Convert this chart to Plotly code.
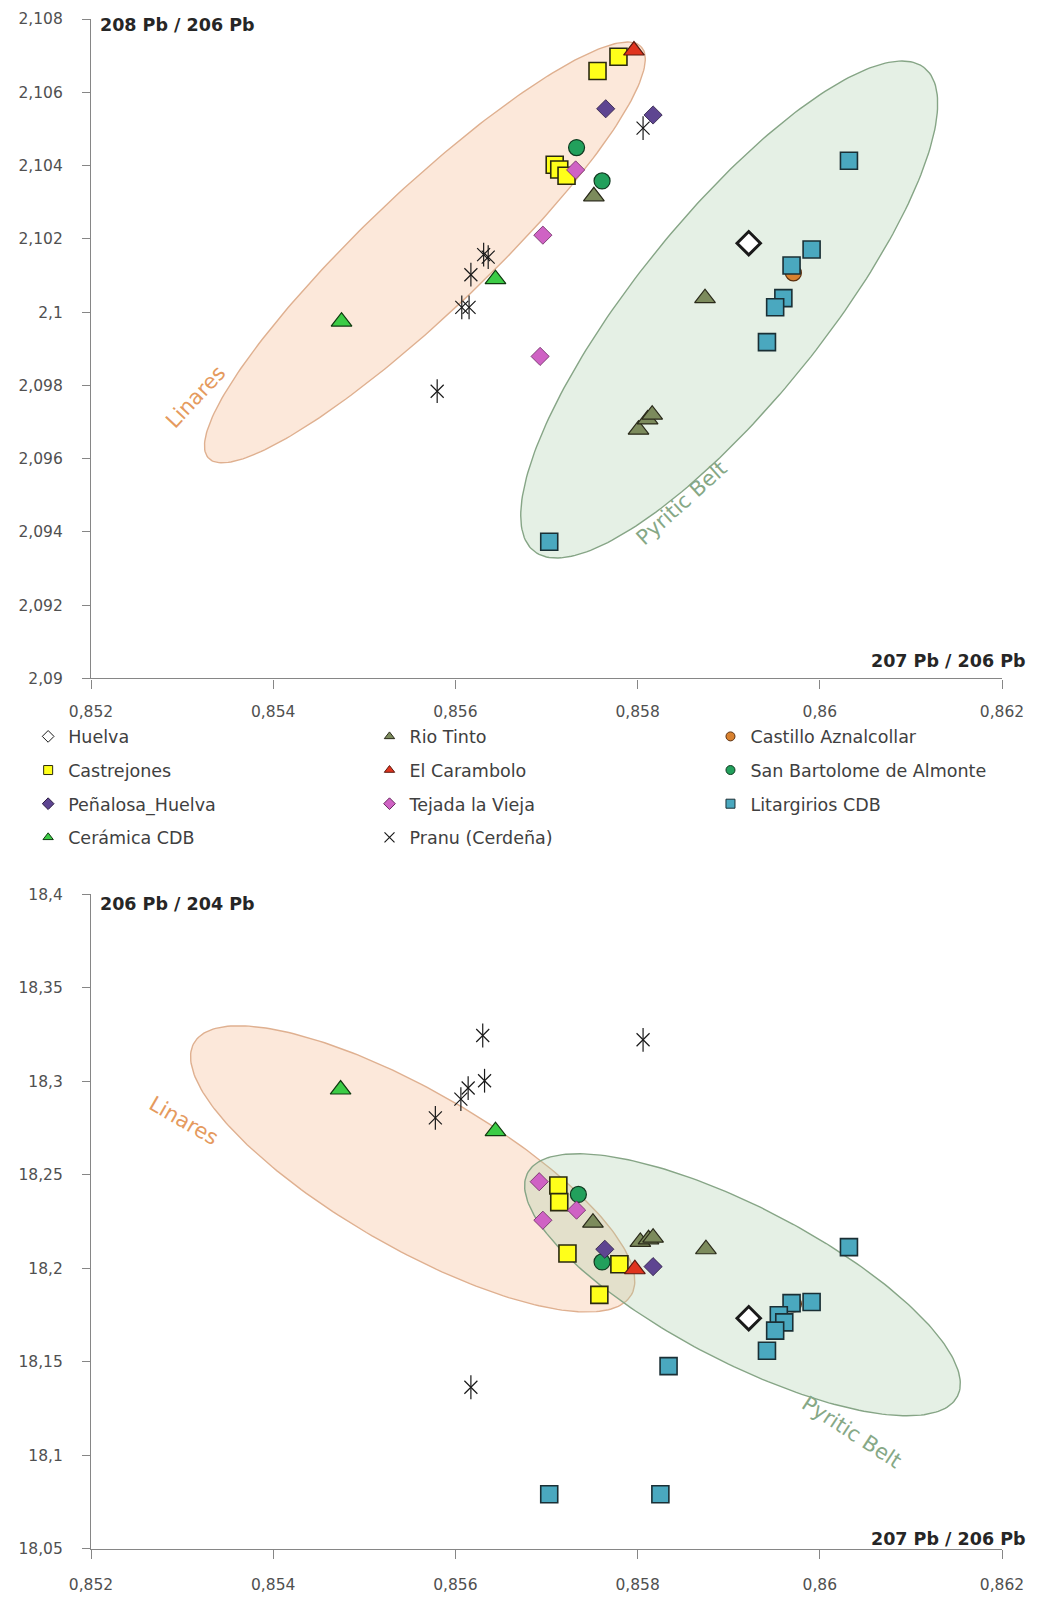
import numpy as np
import plotly.graph_objects as go

FONT = "DejaVu Sans"

# ---------------- data: top chart (208Pb/206Pb vs 207Pb/206Pb) ----------------
HUELVA_X_T = [0.85922]
HUELVA_Y_T = [2.10188]
RIOTINTO_X_T = [0.85752, 0.85874, 0.85801, 0.85811, 0.85816]
RIOTINTO_Y_T = [2.10316, 2.10038, 2.09679, 2.09707, 2.09720]
CASTILLO_X_T = [0.85971]
CASTILLO_Y_T = [2.10107]
CASTREJONES_X_T = [0.85756, 0.85779, 0.85709, 0.85714, 0.85722]
CASTREJONES_Y_T = [2.10658, 2.10697, 2.10402, 2.10389, 2.10372]
CARAMBOLO_X_T = [0.85796]
CARAMBOLO_Y_T = [2.10714]
SANBARTOLOME_X_T = [0.85733, 0.85761]
SANBARTOLOME_Y_T = [2.10449, 2.10358]
PENALOSA_X_T = [0.85765, 0.85817]
PENALOSA_Y_T = [2.10555, 2.10538]
TEJADA_X_T = [0.85732, 0.85696, 0.85693]
TEJADA_Y_T = [2.10388, 2.10210, 2.09879]
LITARGIRIOS_X_T = [0.86032, 0.85991, 0.85969, 0.85960, 0.85951, 0.85942, 0.85703]
LITARGIRIOS_Y_T = [2.10413, 2.10171, 2.10127, 2.10038, 2.10013, 2.09918, 2.09373]
CERAMICA_X_T = [0.85475, 0.85644]
CERAMICA_Y_T = [2.09974, 2.10090]
PRANU_X_T = [0.85631, 0.85636, 0.85617, 0.85607, 0.85615, 0.85580, 0.85806]
PRANU_Y_T = [2.10157, 2.10150, 2.10102, 2.10013, 2.10013, 2.09784, 2.10502]

# ---------------- data: bottom chart (206Pb/204Pb vs 207Pb/206Pb) ----------------
HUELVA_X_B = [0.85922]
HUELVA_Y_B = [18.1734]
RIOTINTO_X_B = [0.85751, 0.85875, 0.85803, 0.85812, 0.85817]
RIOTINTO_Y_B = [18.2245, 18.2103, 18.2142, 18.2156, 18.2165]
CASTILLO_X_B = [0.85971]
CASTILLO_Y_B = [18.1810]
CASTREJONES_X_B = [0.85713, 0.85714, 0.85723, 0.85780, 0.85758]
CASTREJONES_Y_B = [18.2444, 18.2355, 18.2080, 18.2023, 18.1859]
CARAMBOLO_X_B = [0.85797]
CARAMBOLO_Y_B = [18.1996]
SANBARTOLOME_X_B = [0.85735, 0.85761]
SANBARTOLOME_Y_B = [18.2396, 18.2035]
PENALOSA_X_B = [0.85764, 0.85817]
PENALOSA_Y_B = [18.2103, 18.2010]
TEJADA_X_B = [0.85692, 0.85696, 0.85733]
TEJADA_Y_B = [18.2464, 18.2258, 18.2312]
LITARGIRIOS_X_B = [0.86032, 0.85991, 0.85969, 0.85955, 0.85961, 0.85951, 0.85942, 0.85834, 0.85703, 0.85825]
LITARGIRIOS_Y_B = [18.2114, 18.1821, 18.1815, 18.1750, 18.1712, 18.1668, 18.1560, 18.1478, 18.0793, 18.0793]
CERAMICA_X_B = [0.85474, 0.85644]
CERAMICA_Y_B = [18.2957, 18.2734]
PRANU_X_B = [0.85630, 0.85632, 0.85614, 0.85606, 0.85578, 0.85806, 0.85617]
PRANU_Y_B = [18.3246, 18.3004, 18.2965, 18.2906, 18.2805, 18.3223, 18.1365]

# ---------------- ticks ----------------
X_TICKS = [0.852, 0.854, 0.856, 0.858, 0.860, 0.862]
X_TICK_LABELS = ["0,852", "0,854", "0,856", "0,858", "0,86", "0,862"]
Y1_TICKS = [2.090, 2.092, 2.094, 2.096, 2.098, 2.100, 2.102, 2.104, 2.106, 2.108]
Y1_TICK_LABELS = ["2,09", "2,092", "2,094", "2,096", "2,098", "2,1", "2,102", "2,104", "2,106", "2,108"]
Y2_TICKS = [18.05, 18.10, 18.15, 18.20, 18.25, 18.30, 18.35, 18.40]
Y2_TICK_LABELS = ["18,05", "18,1", "18,15", "18,2", "18,25", "18,3", "18,35", "18,4"]

# ---------------- field ellipses (center, semi-axis vectors, in data units) ----------------
ELL_LINARES_T = dict(c=(0.855665, 2.101628), u=(0.0023750, 0.0056140), v=(0.0004614, -0.0012103))
ELL_PYRITIC_T = dict(c=(0.8590055, 2.10007), u=(0.002144, 0.006594), v=(0.000800, -0.001590))
ELL_LINARES_B = dict(c=(0.855531, 18.25326), u=(0.0024, -0.06739), v=(-0.000430, -0.03625))
ELL_PYRITIC_B = dict(c=(0.859151, 18.1913), u=(0.002359, -0.05973), v=(-0.000392, -0.03663))

series = [
    # name, top x, top y, bottom x, bottom y, symbol, fill, line colour, size, line width, legend column
    ("Huelva", HUELVA_X_T, HUELVA_Y_T, HUELVA_X_B, HUELVA_Y_B, "diamond", "white", "#1a1a1a", 18, 3.0, "legend"),
    ("Rio Tinto", RIOTINTO_X_T, RIOTINTO_Y_T, RIOTINTO_X_B, RIOTINTO_Y_B, "triangle-up", "#7c8b5c", "#2a2a1a", 18, 1.2, "legend2"),
    ("Castillo Aznalcollar", CASTILLO_X_T, CASTILLO_Y_T, CASTILLO_X_B, CASTILLO_Y_B, "circle", "#d9812f", "#5a3010", 16, 1.2, "legend3"),
    ("Castrejones", CASTREJONES_X_T, CASTREJONES_Y_T, CASTREJONES_X_B, CASTREJONES_Y_B, "square", "#ffff1a", "#2a2a10", 17, 1.6, "legend"),
    ("El Carambolo", CARAMBOLO_X_T, CARAMBOLO_Y_T, CARAMBOLO_X_B, CARAMBOLO_Y_B, "triangle-up", "#e0341e", "#5a1a10", 18, 1.2, "legend2"),
    ("San Bartolome de Almonte", SANBARTOLOME_X_T, SANBARTOLOME_Y_T, SANBARTOLOME_X_B, SANBARTOLOME_Y_B, "circle", "#22a05c", "#103a20", 16, 1.2, "legend3"),
    ("Peñalosa_Huelva", PENALOSA_X_T, PENALOSA_Y_T, PENALOSA_X_B, PENALOSA_Y_B, "diamond", "#5e4591", "#2a1a40", 14, 0.8, "legend"),
    ("Tejada la Vieja", TEJADA_X_T, TEJADA_Y_T, TEJADA_X_B, TEJADA_Y_B, "diamond", "#cf62c4", "#6a2a60", 14, 0.8, "legend2"),
    ("Litargirios CDB", LITARGIRIOS_X_T, LITARGIRIOS_Y_T, LITARGIRIOS_X_B, LITARGIRIOS_Y_B, "square", "#4aa8bf", "#1a2f35", 17, 1.6, "legend3"),
    ("Cerámica CDB", CERAMICA_X_T, CERAMICA_Y_T, CERAMICA_X_B, CERAMICA_Y_B, "triangle-up", "#3ccc46", "#103a10", 18, 1.2, "legend"),
]

fig = go.Figure()


def ellipse_trace(e, xa, ya, fill, line):
    t = np.linspace(0, 2 * np.pi, 240)
    cx, cy = e["c"]
    ux, uy = e["u"]
    vx, vy = e["v"]
    return go.Scatter(
        x=cx + ux * np.cos(t) + vx * np.sin(t),
        y=cy + uy * np.cos(t) + vy * np.sin(t),
        mode="lines", fill="toself", fillcolor=fill,
        line=dict(color=line, width=1.4), hoverinfo="skip",
        showlegend=False, xaxis=xa, yaxis=ya,
    )


LIN_FILL, LIN_LINE = "rgba(248,200,168,0.42)", "#dfb090"
PYR_FILL, PYR_LINE = "rgba(170,205,170,0.30)", "#86a586"

fig.add_trace(ellipse_trace(ELL_LINARES_T, "x", "y", LIN_FILL, LIN_LINE))
fig.add_trace(ellipse_trace(ELL_PYRITIC_T, "x", "y", PYR_FILL, PYR_LINE))
fig.add_trace(ellipse_trace(ELL_LINARES_B, "x2", "y2", LIN_FILL, LIN_LINE))
fig.add_trace(ellipse_trace(ELL_PYRITIC_B, "x2", "y2", PYR_FILL, PYR_LINE))

for name, xt, yt, xb, yb, sym, fc, lc, sz, lw, leg in series:
    for xs, ys, xa, ya in ((xt, yt, "x", "y"), (xb, yb, "x2", "y2")):
        fig.add_trace(go.Scatter(
            x=xs, y=ys, mode="markers", name=name, showlegend=False,
            marker=dict(symbol=sym, size=sz, color=fc, line=dict(color=lc, width=lw)),
            xaxis=xa, yaxis=ya,
        ))
    fig.add_trace(go.Scatter(
        x=[None], y=[None], mode="markers", name=name, legend=leg, legendgroup=name,
        marker=dict(symbol=sym, size=9, color=fc, line=dict(color=lc, width=1)),
        xaxis="x", yaxis="y",
    ))

# Pranu (Cerdeña): six-armed star drawn as x + vertical bar
for xs, ys, xa, ya in ((PRANU_X_T, PRANU_Y_T, "x", "y"), (PRANU_X_B, PRANU_Y_B, "x2", "y2")):
    for sym, sz in (("x-thin-open", 13), ("line-ns-open", 17)):
        fig.add_trace(go.Scatter(
            x=xs, y=ys, mode="markers", showlegend=False, name="Pranu (Cerdeña)",
            marker=dict(symbol=sym, size=sz, color="#1a1a1a", line=dict(color="#1a1a1a", width=1.2)),
            xaxis=xa, yaxis=ya,
        ))
fig.add_trace(go.Scatter(
    x=[None], y=[None], mode="markers", name="Pranu (Cerdeña)", legend="legend2",
    legendgroup="Pranu (Cerdeña)",
    marker=dict(symbol="x-thin-open", size=10, color="#1a1a1a", line=dict(color="#1a1a1a", width=1.2)),
    xaxis="x", yaxis="y",
))

AX_COL = "#868686"
TICK_FONT = dict(family=FONT, size=15.5, color="#505050")


def xaxis_cfg(anchor, standoff):
    return dict(
        range=[0.852, 0.862], tickvals=X_TICKS, ticktext=X_TICK_LABELS,
        ticks="outside", ticklen=9, tickcolor=AX_COL, tickwidth=1,
        showline=True, linecolor=AX_COL, linewidth=1.2,
        showgrid=False, zeroline=False, tickfont=TICK_FONT, automargin=False,
        ticklabelstandoff=standoff, anchor=anchor, domain=[0, 1], fixedrange=True,
    )


def yaxis_cfg(rng, vals, labels, dom, anchor):
    return dict(
        range=rng, tickvals=vals, ticktext=labels,
        ticks="outside", ticklen=8, tickcolor=AX_COL, tickwidth=1,
        showline=True, linecolor=AX_COL, linewidth=1.2,
        showgrid=False, zeroline=False, tickfont=TICK_FONT, automargin=False,
        ticklabelstandoff=16, anchor=anchor, domain=dom, fixedrange=True,
    )


LEG_FONT = dict(family=FONT, size=17.5, color="#404040")
leg_common = dict(orientation="v", yanchor="top", xanchor="left", y=0.5428,
                  font=LEG_FONT, bgcolor="rgba(0,0,0,0)", tracegroupgap=7.9,
                  itemclick=False, itemdoubleclick=False)

AXT = dict(family=FONT, size=17.5, color="#262626")
LIN_TXT = dict(family=FONT, size=21, color="#e59a5e")
PYR_TXT = dict(family=FONT, size=21, color="#86a886")
annotations = [
    dict(text="<b>208 Pb / 206 Pb</b>", xref="x domain", yref="y domain", x=0.008, y=0.991,
         xanchor="left", yanchor="middle", showarrow=False, font=AXT),
    dict(text="<b>207 Pb / 206 Pb</b>", xref="x domain", yref="y domain", x=1.029, y=0.026,
         xanchor="right", yanchor="middle", showarrow=False, font=AXT),
    dict(text="<b>206 Pb / 204 Pb</b>", xref="x2 domain", yref="y2 domain", x=0.008, y=0.986,
         xanchor="left", yanchor="middle", showarrow=False, font=AXT),
    dict(text="<b>207 Pb / 206 Pb</b>", xref="x2 domain", yref="y2 domain", x=1.029, y=0.0156,
         xanchor="right", yanchor="middle", showarrow=False, font=AXT),
    dict(text="Linares", xref="x", yref="y", x=0.85315, y=2.09768, textangle=-47,
         showarrow=False, font=LIN_TXT),
    dict(text="Pyritic Belt", xref="x", yref="y", x=0.858486, y=2.094784, textangle=-42,
         showarrow=False, font=PYR_TXT),
    dict(text="Linares", xref="x2", yref="y2", x=0.853023, y=18.2791, textangle=30,
         showarrow=False, font=LIN_TXT),
    dict(text="Pyritic Belt", xref="x2", yref="y2", x=0.860346, y=18.1125, textangle=33,
         showarrow=False, font=PYR_TXT),
]

fig.update_layout(
    width=1038, height=1598,
    margin=dict(l=91, r=36, t=19, b=49, autoexpand=False),
    paper_bgcolor="white", plot_bgcolor="white",
    font=dict(family=FONT),
    xaxis=xaxis_cfg("y", 10),
    yaxis=yaxis_cfg([2.09, 2.108], Y1_TICKS, Y1_TICK_LABELS, [0.5690, 1.0], "x"),
    xaxis2=xaxis_cfg("y2", 12),
    yaxis2=yaxis_cfg([18.05, 18.4], Y2_TICKS, Y2_TICK_LABELS, [0.0, 0.4278], "x2"),
    legend=dict(leg_common, x=-0.069),
    legend2=dict(leg_common, x=0.3057),
    legend3=dict(leg_common, x=0.680),
    annotations=annotations,
    showlegend=True,
)

# remove the default 8px page margin so the figure fills the 1038x1598 window exactly
fig.write_html(
    "out.html",
    config={"displayModeBar": False},
    post_script="document.body.style.margin='0';document.body.style.overflow='hidden';",
)
